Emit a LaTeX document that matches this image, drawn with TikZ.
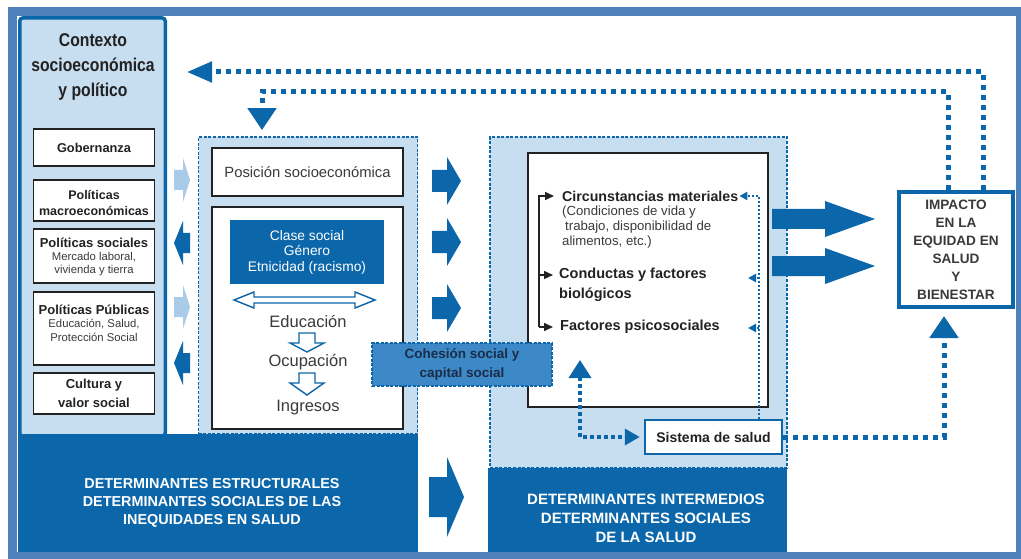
\documentclass[tikz,border=0pt]{standalone}
\usepackage{fontspec}
\setmainfont{Liberation Sans}
\newfontfamily\headfont[FakeStretch=0.85]{Liberation Sans}
\usetikzlibrary{arrows.meta}

\definecolor{frameblue}{HTML}{4F81BD}
\definecolor{deepblue}{HTML}{0B66AA}
\definecolor{paleblue}{HTML}{C7DDF0}
\definecolor{fadeblue}{HTML}{A9CBE8}
\definecolor{midblue}{HTML}{3D89C7}
\definecolor{ink}{HTML}{222222}
\definecolor{softink}{HTML}{3A3A3A}
\definecolor{navy}{HTML}{1B2D48}

\newcommand\fsz[2]{\fontsize{#1}{#2}\selectfont}
% horizontal block arrow: style, tail x, neck x, tip x, axis y, shaft half height, head half height
\newcommand\blockright[7]{%
  \path[#1] (#2,{#5-#6}) -- (#3,{#5-#6}) -- (#3,{#5-#7}) -- (#4,#5)
    -- (#3,{#5+#7}) -- (#3,{#5+#6}) -- (#2,{#5+#6}) -- cycle;}
% vertical block arrow: style, axis x, tail y, neck y, tip y, shaft half width, head half width
\newcommand\blockdown[7]{%
  \path[#1] ({#2-#6},#3) -- ({#2-#6},#4) -- ({#2-#7},#4) -- (#2,#5)
    -- ({#2+#7},#4) -- ({#2+#6},#4) -- ({#2+#6},#3) -- cycle;}

\begin{document}
\begin{tikzpicture}[x=1pt,y=-1pt,
  box/.style={draw=ink,line width=1.8pt,fill=white,inner sep=0pt},
  dashbox/.style={draw=deepblue,line width=1.8pt,dash pattern=on 3pt off 1.6pt,fill=paleblue,inner sep=0pt},
  lbl/.style={inner sep=0pt,text=ink,align=center},
  bigdot/.style={draw=deepblue,line width=5pt,dash pattern=on 5pt off 5pt},
  meddot/.style={draw=deepblue,line width=3.5pt,dash pattern=on 3.5pt off 3.5pt},
  thindot/.style={draw=deepblue,line width=2pt,dash pattern=on 2pt off 2pt},
  brk/.style={draw=ink,line width=1.5pt},
  solidarrow/.style={fill=deepblue},
  fadearrow/.style={fill=fadeblue},
  hollowarrow/.style={draw=deepblue,line width=1.4pt,fill=white,line join=miter},
  band/.style={fill=deepblue},
  bandtext/.style={inner sep=0pt,text=white,align=center,font=\bfseries\fsz{14.4}{18}}
]
\useasboundingbox (0,0) rectangle (1021,559);

% outer frame
\fill[frameblue] (8,7) rectangle (1021,559);
\fill[white] (17,16) rectangle (1016,552);

% ---------- socio-economic and political context ----------
\node[draw=deepblue,line width=3.5pt,fill=paleblue,rounded corners=3pt,inner sep=0pt,
      minimum width=145.5pt,minimum height=418pt] (ctx) at (92.5,227) {};
\node[lbl,font=\headfont\bfseries\fsz{18.5}{25}] (ctxtitle) at (93,67)
  {Contexto\\socioeconómica\\y político};

\node[box,minimum width=121pt,minimum height=37pt] (gob) at (94,147.5) {};
\node[lbl,font=\bfseries\fsz{12.8}{15}] at (gob) {Gobernanza};
\node[box,minimum width=121pt,minimum height=41pt] (mac) at (94,200.5) {};
\node[lbl,font=\bfseries\fsz{12.5}{16}] at (94,203) {Políticas\\macroeconómicas};
\node[box,minimum width=121pt,minimum height=54pt] (soc) at (94,256) {};
\node[lbl,font=\fsz{11.3}{13.2},text=softink] at (94,257)
  {{\bfseries\fsz{13}{13.2}\color{ink}Políticas sociales}\\Mercado laboral,\\vivienda y tierra};
\node[box,minimum width=121pt,minimum height=73pt] (pub) at (94,328.5) {};
\node[lbl,font=\fsz{11.3}{13.5},text=softink] at (94,323)
  {{\bfseries\fsz{13}{13.5}\color{ink}Políticas Públicas}\\Educación, Salud,\\Protección Social};
\node[box,minimum width=121pt,minimum height=41pt] (cul) at (94,393.5) {};
\node[lbl,font=\bfseries\fsz{13}{19}] at (cul) {Cultura y\\valor social};

% bottom bands
\fill[band] (18,434) rectangle (418,552);
\node[bandtext] (estr) at (212,503)
  {DETERMINANTES ESTRUCTURALES\\DETERMINANTES SOCIALES DE LAS\\INEQUIDADES EN SALUD};
\fill[band] (488,468) rectangle (787,552);
\node[bandtext,font=\bfseries\fsz{15}{19}] (interm) at (646,518)
  {DETERMINANTES INTERMEDIOS\\DETERMINANTES SOCIALES\\DE LA SALUD};

% small arrows between the context and the structural block
\blockright{fadearrow}{174}{183}{190}{180}{10}{22}
\blockright{solidarrow}{190}{183}{174}{243}{10}{22}
\blockright{fadearrow}{174}{183}{190}{307}{10}{22}
\blockright{solidarrow}{190}{183}{174}{363}{10}{22}

% ---------- structural determinants ----------
\node[dashbox,minimum width=219pt,minimum height=297pt] (struct) at (308,285.5) {};
\node[box,minimum width=191pt,minimum height=48pt,font=\fsz{14.8}{17},text=softink] (pos) at (307.5,172)
  {Posición socioeconómica};
\node[box,minimum width=191pt,minimum height=222pt] (inner) at (307.5,318) {};
\node[fill=deepblue,inner sep=0pt,minimum width=154pt,minimum height=64pt,
      text=white,align=center,font=\fsz{13.8}{15.5}] (clase) at (307,252)
  {Clase social\\Género\\Etnicidad (racismo)};
% two-headed hollow arrow
\path[hollowarrow] (234,300) -- (254,292) -- (254,297) -- (355,297) -- (355,292) -- (375,300)
  -- (355,308) -- (355,303) -- (254,303) -- (254,308) -- cycle;
\node[lbl,font=\fsz{16.5}{18},text=softink] (edu) at (308,322) {Educación};
\blockdown{hollowarrow}{307}{333}{343}{352}{8}{17}
\node[lbl,font=\fsz{16.5}{18},text=softink] (ocu) at (308,362) {Ocupación};
\blockdown{hollowarrow}{307}{373}{383}{395}{8}{17}
\node[lbl,font=\fsz{16.5}{18},text=softink] (ing) at (308,408) {Ingresos};

% arrows from structural to intermediate
\blockright{solidarrow}{432}{447}{461}{181}{11}{24}
\blockright{solidarrow}{432}{447}{461}{242}{11}{24}
\blockright{solidarrow}{432}{447}{461}{308}{11}{24}
\blockright{solidarrow}{429}{447}{464}{497}{20}{40}

% ---------- intermediate determinants ----------
\node[dashbox,minimum width=297pt,minimum height=331pt] (inter) at (638.5,302.5) {};
\node[box,minimum width=240pt,minimum height=254pt] (circbox) at (648,280) {};

\node[inner sep=0pt,anchor=west,text=ink,font=\bfseries\fsz{14.2}{16}] (circ) at (562,196)
  {Circunstancias materiales};
\node[inner sep=0pt,anchor=west,align=left,text=softink,font=\fsz{13.2}{14.6}] (circsub) at (562,227)
  {(Condiciones de vida y\\\hspace{3pt}trabajo, disponibilidad de\\alimentos, etc.)};
\node[inner sep=0pt,anchor=west,text=ink,font=\bfseries\fsz{14.5}{16}] (cond) at (559,275)
  {Conductas y factores};
\node[inner sep=0pt,anchor=west,text=ink,font=\bfseries\fsz{14.5}{16}] (bio) at (559,295)
  {biológicos};
\node[inner sep=0pt,anchor=west,text=ink,font=\bfseries\fsz{14.5}{16}] (fac) at (560,327)
  {Factores psicosociales};

% bracket feeding the three groups
\coordinate (bx) at (539,0);
\draw[brk,-{Triangle[length=9pt,width=8pt]},shorten >=8pt]
  (bx |- fac.west) -- (bx |- circ.west) -- (circ.west);
\draw[brk,-{Triangle[length=9pt,width=8pt]},shorten >=6pt] (bx |- cond.west) -- (cond.west);
\draw[brk,-{Triangle[length=9pt,width=8pt]},shorten >=7pt] (bx |- fac.west) -- (fac.west);

% health system
\node[draw=deepblue,line width=2.5pt,fill=white,inner sep=0pt,minimum width=137pt,minimum height=34pt,
      text=ink,font=\bfseries\fsz{14}{16}] (sis) at (713.5,437) {Sistema de salud};

% thin dotted feedback from the health system
\coordinate (vt) at (759,0);
\draw[thindot,-{Triangle[length=8pt,width=8pt]},shorten >=1pt]
  (sis.north -| vt) -- (vt |- circ.east) -- (circ.east);
\coordinate (a2) at (759,278);
\coordinate (a3) at (759,328);
\draw[thindot,-{Triangle[length=8pt,width=8pt]}] (a2) -- ++(-11,0);
\draw[thindot,-{Triangle[length=8pt,width=8pt]}] (a3) -- ++(-11,0);

% health system link up into the intermediate factors
\coordinate (upt) at (580,360);
\draw[meddot,{Triangle[length=18pt,width=22pt]}-{Triangle[length=15pt,width=16pt]},shorten >=4pt]
  (upt) -- (upt |- sis.west) -- (sis.west);

% social cohesion
\node[fill=midblue,draw=deepblue,line width=1.5pt,dash pattern=on 3pt off 1.5pt,inner sep=0pt,
      minimum width=180pt,minimum height=43pt,align=center,text=navy,
      font=\bfseries\fsz{13.5}{19}] (coh) at (462,364.5) {Cohesión social y\\capital social};

% ---------- impact ----------
\node[draw=deepblue,line width=4pt,fill=white,inner sep=0pt,minimum width=114pt,minimum height=115pt,
      align=center,text=softink,font=\bfseries\fsz{13.6}{18}] (imp) at (956,249.5)
  {IMPACTO\\EN LA\\EQUIDAD EN\\SALUD\\Y\\BIENESTAR};

\blockright{solidarrow}{772}{825}{875}{219}{10}{18}
\blockright{solidarrow}{772}{825}{875}{266}{10}{18}

% feedback loops
\coordinate (vr1) at (983,72);
\draw[bigdot,-{Triangle[length=25pt,width=20pt]},shorten >=20pt]
  (imp.north -| vr1) -- (vr1) -- (ctx.east |- vr1);
\coordinate (vr2) at (948,92);
\coordinate (hl2) at (262,92);
\draw[bigdot,-{Triangle[length=22pt,width=28pt]},shorten >=6pt]
  (imp.north -| vr2) -- (vr2) -- (hl2) -- (struct.north -| hl2);
\coordinate (vr3) at (944,437);
\draw[bigdot,-{Triangle[length=22pt,width=28pt]},shorten >=7pt]
  (sis.east) -- (sis.east -| vr3) -- (imp.south -| vr3);

\end{tikzpicture}
\end{document}
